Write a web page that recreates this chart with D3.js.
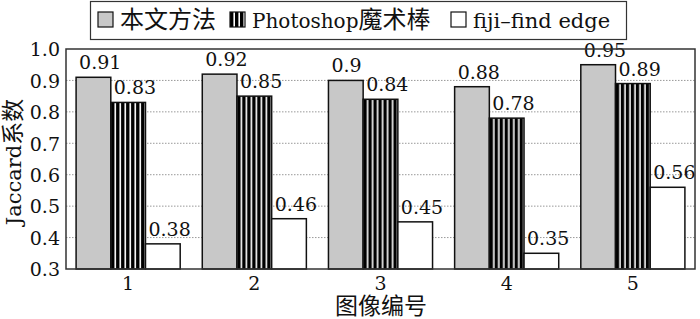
<!DOCTYPE html>
<html>
<head>
<meta charset="utf-8">
<script src="https://cdn.jsdelivr.net/npm/d3@7"></script>
<style>
  body { margin: 0; background: #fff; }
  svg text { font-family: "DejaVu Serif", "Noto Sans CJK SC", serif; fill: #111; }
</style>
</head>
<body>
<div id="chart"></div>
<script>
// data
var images = ["1", "2", "3", "4", "5"];
var seriesNames = ["本文方法", "Photoshop魔术棒", "fiji\u2013find edge"];
var ours = [0.91, 0.92, 0.9, 0.88, 0.95];
var photoshop = [0.83, 0.85, 0.84, 0.78, 0.89];
var fiji = [0.38, 0.46, 0.45, 0.35, 0.56];
var yTicks = [0.3, 0.4, 0.5, 0.6, 0.7, 0.8, 0.9, 1.0];

var width = 700, height = 319;
var margin = { top: 49, right: 5, bottom: 50, left: 66 };
var innerW = width - margin.left - margin.right;
var innerH = height - margin.top - margin.bottom;

var svg = d3.select("#chart")
  .append("svg")
  .attr("width", width)
  .attr("height", height);

// split a label into latin / CJK runs so the CJK glyphs can be a bit larger
function mixedText(sel, str, latinSize, cjkSize) {
  var runs = str.match(/[\u4e00-\u9fff]+|[^\u4e00-\u9fff]+/g);
  runs.forEach(function(r) {
    var isCjk = /[\u4e00-\u9fff]/.test(r);
    sel.append("tspan")
      .attr("font-size", isCjk ? cjkSize : latinSize)
      .text(r);
  });
}

// stripe pattern for the Photoshop bars
var defs = svg.append("defs");
var pat = defs.append("pattern")
  .attr("id", "stripes")
  .attr("patternUnits", "userSpaceOnUse")
  .attr("width", 5)
  .attr("height", 10);
pat.append("rect").attr("width", 5).attr("height", 10).attr("fill", "#fff");
pat.append("rect").attr("width", 3.4).attr("height", 10).attr("fill", "#000");

var fills = ["#c8c8c8", "url(#stripes)", "#fff"];

var g = svg.append("g")
  .attr("transform", "translate(" + margin.left + "," + margin.top + ")");

var x0 = d3.scaleBand().domain(images).range([0, innerW]).paddingInner(0.175).paddingOuter(0.08);
var x1 = d3.scaleBand().domain(d3.range(3)).range([0, x0.bandwidth()]);
var y = d3.scaleLinear().domain([0.3, 1.0]).range([innerH, 0]);

// dotted grid
g.selectAll(".grid")
  .data(yTicks.slice(1, -1))
  .enter()
  .append("line")
  .attr("x1", 0)
  .attr("x2", innerW)
  .attr("y1", function(d) { return y(d); })
  .attr("y2", function(d) { return y(d); })
  .attr("stroke", "#999")
  .attr("stroke-width", 1)
  .attr("stroke-dasharray", "1.5,1.5");

var table = images.map(function(img, i) {
  return { img: img, vals: [ours[i], photoshop[i], fiji[i]] };
});

var groups = g.selectAll(".group")
  .data(table)
  .enter()
  .append("g")
  .attr("transform", function(d) { return "translate(" + x0(d.img) + ",0)"; });

groups.selectAll("rect")
  .data(function(d) { return d.vals.map(function(v, k) { return { k: k, v: v }; }); })
  .enter()
  .append("rect")
  .attr("x", function(d) { return x1(d.k); })
  .attr("y", function(d) { return y(d.v); })
  .attr("width", x1.bandwidth())
  .attr("height", function(d) { return innerH - y(d.v); })
  .attr("fill", function(d) { return fills[d.k]; })
  .attr("stroke", "#111")
  .attr("stroke-width", 1.5);

groups.selectAll(".val")
  .data(function(d) { return d.vals.map(function(v, k) { return { k: k, v: v }; }); })
  .enter()
  .append("text")
  .attr("class", "val")
  .attr("x", function(d) { return x1(d.k) + 3; })
  .attr("y", function(d) { return y(d.v) - 8; })
  .attr("font-size", 19)
  .text(function(d) { return String(d.v); });

// frame
g.append("rect")
  .attr("width", innerW)
  .attr("height", innerH)
  .attr("fill", "none")
  .attr("stroke", "#333")
  .attr("stroke-width", 1.5);

// axes (labels only)
var yAxis = d3.axisLeft(y).tickValues(yTicks).tickFormat(d3.format(".1f")).tickSize(0).tickPadding(6);
var yg = g.append("g").call(yAxis);
yg.select(".domain").remove();
yg.selectAll("text").attr("font-size", 19).attr("dy", "0.36em");

var xAxis = d3.axisBottom(x0).tickSize(0).tickPadding(8);
var xg = g.append("g").attr("transform", "translate(0," + innerH + ")").call(xAxis);
xg.select(".domain").remove();
xg.selectAll("text").attr("font-size", 19);

// axis titles
var yTitle = svg.append("text")
  .attr("transform", "translate(21,162) rotate(-90)")
  .attr("text-anchor", "middle");
mixedText(yTitle, "Jaccard系数", 21, 23);

svg.append("text")
  .attr("x", 381)
  .attr("y", 314)
  .attr("text-anchor", "middle")
  .attr("font-size", 23)
  .text("图像编号");

// legend
var legend = svg.append("g");
legend.append("rect")
  .attr("x", 90.5).attr("y", 1.5)
  .attr("width", 536).attr("height", 38)
  .attr("fill", "#fff").attr("stroke", "#333").attr("stroke-width", 1.2);

var legendX = [98, 230, 451];
var legendSize = [20, 20, 21];
var items = legend.selectAll(".item")
  .data(seriesNames)
  .enter()
  .append("g")
  .attr("transform", function(d, i) { return "translate(" + legendX[i] + ",0)"; });

items.append("rect")
  .attr("x", 0).attr("y", 12)
  .attr("width", 15).attr("height", 15)
  .attr("fill", function(d, i) { return fills[i]; })
  .attr("stroke", "#111").attr("stroke-width", 1.2);

items.append("text")
  .attr("x", 22)
  .attr("y", 28)
  .each(function(d, i) { mixedText(d3.select(this), d, legendSize[i], 24); });
</script>
</body>
</html>
